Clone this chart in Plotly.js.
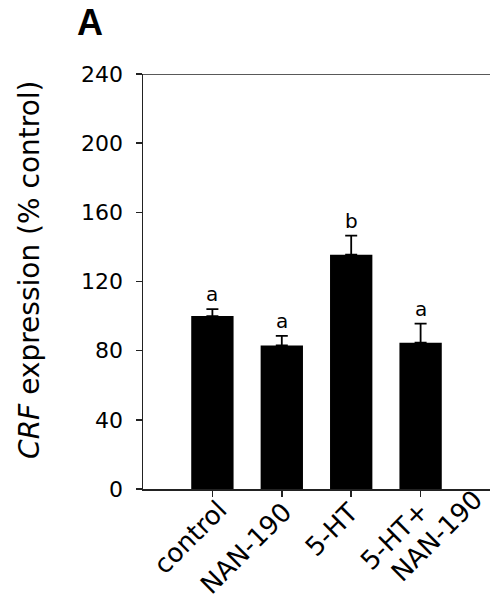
<!DOCTYPE html>
<html>
<head>
<meta charset="utf-8">
<script src="https://cdn.plot.ly/plotly-3.0.1.min.js"></script>
<style>html,body{margin:0;padding:0;background:#fff;}#chart{width:490px;height:599px;}</style>
</head>
<body>
<div id="chart"></div>
<script>
// ---- data ----
const categories = ["control", "NAN-190", "5-HT", "5-HT+<br>NAN-190"];
const values = [100, 83, 135.5, 84.6];
const errors = [4, 5.5, 11, 11];
const letters = ["a", "a", "b", "a"];
const yTicks = [0, 40, 80, 120, 160, 200, 240];

// ---- layout helpers (pixel offsets of rotated tick-label line centres from tick at axis) ----
const labelOffsets = [
  [[-22, 48]],
  [[-35.5, 59]],
  [[-20, 41]],
  [[-26.5, 47], [16, 47]]
];

const FONT = "DejaVu Sans, Liberation Sans, Arial, sans-serif";
const AXIS = "#222";

const trace = {
  type: "bar",
  x: categories,
  y: values,
  width: 0.61,
  marker: {color: "#000000", line: {width: 0}},
  error_y: {type: "data", symmetric: false, array: errors, arrayminus: errors.map(() => 0),
            color: "#000000", thickness: 1.8, width: 6},
  hoverinfo: "skip"
};

const annotations = letters.map((l, i) => ({
  x: categories[i], y: values[i] + errors[i], xref: "x", yref: "y",
  text: l, showarrow: false, yanchor: "bottom", yshift: 1,
  font: {family: FONT, size: 20, color: "#000"}
}));

categories.forEach((c, i) => {
  c.split("<br>").forEach((line, k) => {
    const off = labelOffsets[i][k];
    annotations.push({
      x: c, y: 0, xref: "x", yref: "y", text: line, showarrow: false,
      xanchor: "center", yanchor: "middle", textangle: -45,
      xshift: off[0], yshift: -off[1],
      font: {family: FONT, size: 26, color: "#000"}
    });
  });
});

annotations.push({
  xref: "paper", yref: "paper", x: -0.3256, y: 0.528, xanchor: "center", yanchor: "middle",
  text: "<i>CRF</i> expression (% control)", textangle: -90, showarrow: false,
  font: {family: FONT, size: 28, color: "#000"}
});
annotations.push({
  xref: "paper", yref: "paper", x: -0.154, y: 1.125, xanchor: "center", yanchor: "middle",
  text: "<b>A</b>", showarrow: false,
  font: {family: "Liberation Sans, Arial, sans-serif", size: 36, color: "#000"}
});

const layout = {
  width: 490, height: 599,
  margin: {l: 143, r: 0, t: 74, b: 110},
  paper_bgcolor: "#fff", plot_bgcolor: "#fff",
  showlegend: false,
  xaxis: {
    type: "category", range: [-1, 4], showgrid: false, zeroline: false,
    showline: true, linecolor: AXIS, linewidth: 1.5, mirror: false,
    ticks: "outside", ticklen: 6, tickwidth: 1.5, tickcolor: AXIS,
    showticklabels: false
  },
  yaxis: {
    range: [0, 240], tickvals: yTicks, showgrid: false, zeroline: false,
    showline: true, linecolor: AXIS, linewidth: 1.5,
    ticks: "outside", ticklen: 6, tickwidth: 1.5, tickcolor: AXIS,
    tickfont: {family: FONT, size: 22, color: "#000"}, ticklabelstandoff: 8
  },
  shapes: [
    {type: "line", xref: "paper", yref: "y", x0: -0.017, x1: 1, y0: 240, y1: 240,
     line: {color: AXIS, width: 1.5}},
    {type: "line", xref: "paper", yref: "y", x0: -0.017, x1: 0, y0: 0, y1: 0,
     line: {color: AXIS, width: 1.5}}
  ],
  annotations: annotations
};

Plotly.newPlot("chart", [trace], layout, {displayModeBar: false, staticPlot: true});
</script>
</body>
</html>
